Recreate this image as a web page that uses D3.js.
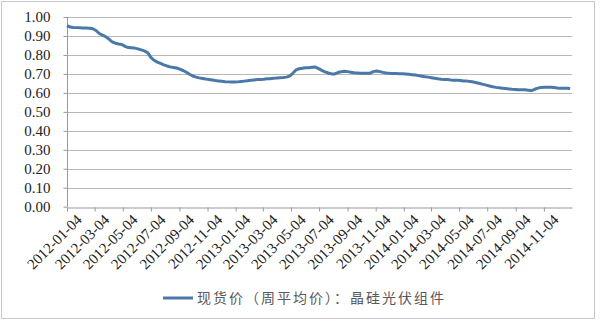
<!DOCTYPE html>
<html>
<head>
<meta charset="utf-8">
<script src="https://cdn.jsdelivr.net/npm/d3@7"></script>
<style>
  body { margin: 0; background: #fff; }
  svg { display: block; }
  .axis text { font-family: "Liberation Serif", "DejaVu Serif", serif; font-size: 15px; fill: #222; }
</style>
</head>
<body>
<svg width="600" height="321"></svg>
<script>
// 周平均价，晶硅光伏组件，2012-01-04 起每周一个值
const startDate = "2012-01-04";
const prices = [
  0.955, 0.947, 0.945, 0.944, 0.943, 0.942, 0.942, 0.941, 0.938, 0.929,
  0.913, 0.905, 0.897, 0.883, 0.869, 0.862, 0.858, 0.855, 0.845, 0.839,
  0.838, 0.836, 0.832, 0.827, 0.821, 0.812, 0.787, 0.772, 0.762, 0.755,
  0.748, 0.742, 0.737, 0.734, 0.731, 0.725, 0.718, 0.709, 0.698, 0.689,
  0.683, 0.679, 0.676, 0.673, 0.671, 0.668, 0.665, 0.663, 0.661, 0.659,
  0.658, 0.657, 0.657, 0.658, 0.660, 0.662, 0.664, 0.666, 0.668, 0.670,
  0.671, 0.672, 0.674, 0.675, 0.677, 0.678, 0.680, 0.681, 0.683, 0.688,
  0.703, 0.721, 0.727, 0.730, 0.732, 0.733, 0.735, 0.736, 0.728, 0.719,
  0.711, 0.705, 0.700, 0.700, 0.707, 0.711, 0.714, 0.712, 0.709, 0.706,
  0.705, 0.703, 0.703, 0.703, 0.704, 0.712, 0.715, 0.712, 0.708, 0.705,
  0.703, 0.702, 0.702, 0.701, 0.701, 0.700, 0.698, 0.696, 0.694, 0.691,
  0.688, 0.685, 0.683, 0.680, 0.677, 0.674, 0.672, 0.671, 0.670, 0.668,
  0.667, 0.666, 0.665, 0.663, 0.662, 0.660, 0.657, 0.653, 0.649, 0.645,
  0.641, 0.636, 0.632, 0.629, 0.627, 0.625, 0.623, 0.621, 0.619, 0.618,
  0.617, 0.617, 0.616, 0.614, 0.612, 0.619, 0.625, 0.629, 0.630, 0.630,
  0.630, 0.628, 0.626, 0.625, 0.624, 0.624, 0.623
];
const xTickLabels = [
  "2012-01-04", "2012-03-04", "2012-05-04", "2012-07-04", "2012-09-04", "2012-11-04",
  "2013-01-04", "2013-03-04", "2013-05-04", "2013-07-04", "2013-09-04", "2013-11-04",
  "2014-01-04", "2014-03-04", "2014-05-04", "2014-07-04", "2014-09-04", "2014-11-04"
];
const yTicks = [0, 0.1, 0.2, 0.3, 0.4, 0.5, 0.6, 0.7, 0.8, 0.9, 1.0];
const seriesName = "现货价（周平均价）：晶硅光伏组件";

const parse = d3.timeParse("%Y-%m-%d");
const t0 = parse(startDate);
const data = prices.map((v, i) => ({ date: d3.timeDay.offset(t0, i * 7), value: v }));

let svg = d3.select("svg"),
	width = +svg.attr("width"),
	height = +svg.attr("height");

const margin = { left: 67, right: 28, top: 17, bottom: 115 };

// 外框
svg.append("rect")
	.attr("x", 1.5).attr("y", 1.5)
	.attr("width", 593).attr("height", 317)
	.attr("fill", "none")
	.attr("stroke", "#c8c8c8");

let x = d3.scaleTime()
	.domain([t0, parse("2015-01-04")])
	.range([margin.left, width - margin.right]);

let y = d3.scaleLinear()
	.domain([0, 1])
	.range([height - margin.bottom + 0.7, margin.top]);

// 网格线
svg.append("g")
	.selectAll("line")
	.data(yTicks.slice(1))
	.enter().append("line")
	.attr("x1", margin.left)
	.attr("x2", width - margin.right)
	.attr("y1", d => Math.round(y(d)) + 0.5)
	.attr("y2", d => Math.round(y(d)) + 0.5)
	.attr("stroke", "#b8b8b8");

// y 轴
let yAxis = svg.append("g")
	.attr("class", "axis")
	.attr("transform", "translate(" + (margin.left + 0.5) + ",0)")
	.call(d3.axisLeft(y).tickValues(yTicks).tickFormat(d3.format(".2f")).tickSize(4).tickPadding(13));
yAxis.attr("font-family", null).attr("font-size", null);
yAxis.selectAll("line").attr("stroke", "#999");
yAxis.select(".domain").attr("stroke", "#999").attr("d", "M0," + y(0) + "V" + y(1));
yAxis.selectAll("text").attr("fill", "#222");

// x 轴
let xAxis = svg.append("g")
	.attr("class", "axis")
	.attr("transform", "translate(0," + (Math.round(y(0)) + 0.5) + ")")
	.call(d3.axisBottom(x).tickValues(xTickLabels.map(parse)).tickFormat(d3.timeFormat("%Y-%m-%d")).tickSize(4).tickSizeOuter(0));
xAxis.attr("font-family", null).attr("font-size", null);
xAxis.selectAll("line").attr("stroke", "#999");
xAxis.select(".domain").attr("stroke", "#999");
xAxis.selectAll("text")
	.attr("fill", "#222")
	.attr("text-anchor", "end")
	.attr("transform", "translate(5,3) rotate(-45)")
	.attr("dy", "0.7em")
	.attr("y", 4);

// 折线
let line = d3.line()
	.x(d => x(d.date))
	.y(d => y(d.value));

svg.append("path")
	.datum(data)
	.attr("d", line)
	.attr("fill", "none")
	.attr("stroke", "#4a78a8")
	.attr("stroke-width", 3)
	.attr("stroke-linejoin", "round");

// 图例
let legend = svg.append("g").attr("transform", "translate(163,298)");
legend.append("line")
	.attr("x1", 0).attr("x2", 30)
	.attr("stroke", "#4a78a8")
	.attr("stroke-width", 3);
legend.append("text")
	.attr("x", 34)
	.attr("dy", "0.35em")
	.attr("fill", "#595959")
	.style("font-family", "'Noto Sans CJK SC', sans-serif")
	.style("font-size", "14px")
	.style("letter-spacing", "2px")
	.text(seriesName);
</script>
</body>
</html>
